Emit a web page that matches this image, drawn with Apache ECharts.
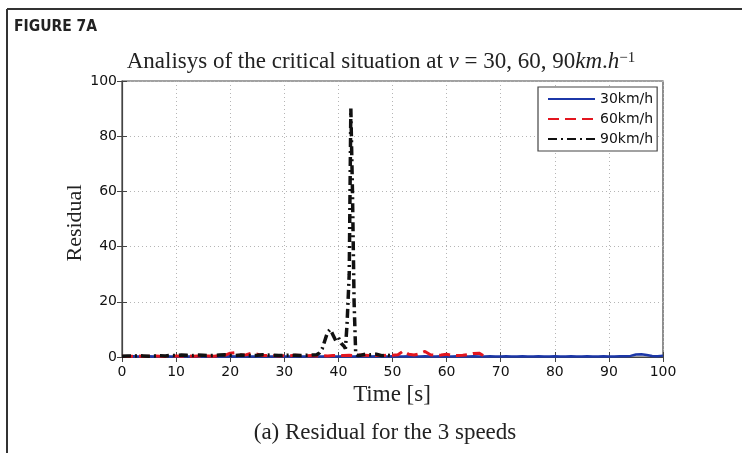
<!DOCTYPE html>
<html>
<head>
<meta charset="utf-8">
<script src="https://cdn.jsdelivr.net/npm/echarts/dist/echarts.min.js"></script>
<style>
html,body{margin:0;padding:0;background:#fff;}
#chart{width:742px;height:453px;}
</style>
</head>
<body>
<div id="chart"></div>
<script>
// ---- data ----
var xTicks = [0,10,20,30,40,50,60,70,80,90,100];
var yTicks = [0,20,40,60,80,100];
var seriesNames = ['30km/h','60km/h','90km/h'];

var t30 = [0,1,2,3,4,5,6,7,8,9,10,11,12,13,14,15,16,17,18,19,20,21,22,23,24,25,26,27,28,29,30,31,32,33,34,35,36,37,38,39,40,41,42,43,44,45,46,47,48,49,50,51,52,53,54,55,56,57,58,59,60,61,62,63,64,65,66,67,68,69,70,71,72,73,74,75,76,77,78,79,80,81,82,83,84,85,86,87,88,89,90,91,92,93,94,95,96,97,98,99,100];
var v30 = [0.2,0.2,0.3,0.2,0.2,0.3,0.2,0.2,0.3,0.2,0.2,0.3,0.2,0.2,0.3,0.2,0.2,0.3,0.2,0.2,0.3,0.2,0.2,0.3,0.2,0.2,0.3,0.2,0.2,0.3,0.2,0.2,0.3,0.2,0.2,0.3,0.2,0.2,0.3,0.2,0.2,0.3,0.2,0.2,0.3,0.2,0.2,0.3,0.2,0.2,0.3,0.2,0.2,0.3,0.2,0.2,0.3,0.2,0.2,0.3,0.2,0.2,0.3,0.2,0.2,0.3,0.2,0.2,0.3,0.2,0.2,0.3,0.2,0.2,0.3,0.2,0.2,0.3,0.2,0.2,0.3,0.2,0.2,0.3,0.2,0.2,0.3,0.2,0.2,0.3,0.2,0.2,0.3,0.3,0.4,0.9,1.0,0.7,0.4,0.3,0.5];

var t60 = [0,1,2,3,4,5,6,7,8,9,10,11,12,13,14,15,16,17,18,19,20,21,22,23,24,25,26,27,28,29,30,31,32,33,34,35,36,37,38,39,40,41,42,43,44,45,46,47,48,49,50,51,52,53,54,55,56,57,58,59,60,61,62,63,64,65,66,67];
var v60 = [0.3,0.2,0.3,0.4,0.2,0.3,0.4,0.3,0.2,0.3,0.4,0.3,0.5,0.3,0.4,0.3,0.4,0.3,0.5,0.6,1.4,1.6,0.7,0.8,1.4,1.0,0.5,0.6,0.5,0.4,0.5,0.4,0.6,0.5,0.4,0.5,0.4,0.5,0.4,0.5,0.6,0.5,0.6,0.5,0.7,0.6,0.5,0.6,0.5,0.7,0.6,0.8,2.2,1.0,0.7,1.2,2.0,0.8,0.6,0.7,1.0,0.6,0.5,0.6,0.9,1.3,1.4,0.3];

var t90 = [0,1,2,3,4,5,6,7,8,9,10,11,12,13,14,15,16,17,18,19,20,21,22,23,24,25,26,27,28,29,30,31,32,33,34,35,36,36.5,37,37.5,38,38.5,39,39.5,40,40.5,41,41.3,41.6,42,42.3,42.6,42.9,43.2,43.6,44,45,46,47,48,49,50];
var v90 = [0.3,0.4,0.3,0.5,0.4,0.3,0.4,0.5,0.4,0.6,0.5,0.7,0.6,0.5,0.7,0.6,0.5,0.6,0.7,0.8,0.6,0.5,0.7,0.6,0.5,0.6,0.8,0.7,0.6,0.5,0.6,0.7,0.6,0.5,0.6,0.7,0.8,1.5,3,6,9,10,8,6,7,5,4,3,12,30,90,60,20,1,0.5,0.6,1.0,0.8,1.0,0.5,0.7,0.4];

function pairs(t, v){ return t.map(function(x,i){ return [x, v[i]]; }); }

var chart = echarts.init(document.getElementById('chart'));
var tickFont = {fontFamily:'DejaVu Sans', fontSize:14, color:'#111'};
var gridLine = {show:true, lineStyle:{color:'#b5b5b5', type:[1,3], width:1}};

var option = {
  animation:false,
  backgroundColor:'#fff',
  grid:{left:122, top:81, right:79, bottom:96, show:true, backgroundColor:'#fff', borderColor:'#444', borderWidth:1.2},
  legend:{
    data:seriesNames, orient:'vertical', left:538, top:87,
    padding:[5,4,5,9], itemWidth:47, itemHeight:12, itemGap:6,
    itemStyle:{opacity:0},
    backgroundColor:'#fff', borderColor:'#444', borderWidth:1.2, borderRadius:0,
    textStyle:{fontFamily:'DejaVu Sans', fontSize:14, color:'#111', lineHeight:14}
  },
  xAxis:[{
    type:'value', min:0, max:100, interval:10,
    axisLine:{show:true, lineStyle:{color:'#444', width:1.2}},
    axisTick:{show:true, inside:true, length:5, lineStyle:{color:'#444'}},
    axisLabel:Object.assign({margin:8, formatter:function(v){return xTicks.indexOf(v)>=0? String(v):'';}}, tickFont),
    splitLine:gridLine
  },{
    type:'value', position:'top', min:0, max:100, interval:10,
    axisLine:{show:false}, axisTick:{show:true, inside:true, length:5, lineStyle:{color:'#444'}},
    axisLabel:{show:false}, splitLine:{show:false}
  }],
  yAxis:[{
    type:'value', min:0, max:100, interval:20,
    axisLine:{show:true, lineStyle:{color:'#444', width:1.2}},
    axisTick:{show:true, inside:true, length:5, lineStyle:{color:'#444'}},
    axisLabel:Object.assign({margin:5, formatter:function(v){return yTicks.indexOf(v)>=0? String(v):'';}}, tickFont),
    splitLine:gridLine
  },{
    type:'value', position:'right', min:0, max:100, interval:20,
    axisLine:{show:false}, axisTick:{show:true, inside:true, length:5, lineStyle:{color:'#444'}},
    axisLabel:{show:false}, splitLine:{show:false}
  }],
  series:[
    {name:seriesNames[0], type:'line', symbol:'none', data:pairs(t30,v30),
     lineStyle:{color:'#1c37a8', width:2.5, type:'solid'}, itemStyle:{color:'#1c37a8'}, z:2},
    {name:seriesNames[1], type:'line', symbol:'none', data:pairs(t60,v60),
     lineStyle:{color:'#e3161f', width:3, type:[11,6]}, itemStyle:{color:'#e3161f'}, z:3},
    {name:seriesNames[2], type:'line', symbol:'none', data:pairs(t90,v90),
     lineStyle:{color:'#111', width:3.5, type:[9,4,2,4]}, itemStyle:{color:'#111'}, z:4}
  ],
  graphic:[
    {type:'line', shape:{x1:7,y1:9,x2:742,y2:9}, style:{stroke:'#333', lineWidth:2}, silent:true},
    {type:'line', shape:{x1:7,y1:9,x2:7,y2:453}, style:{stroke:'#333', lineWidth:2}, silent:true},
    {type:'text', x:14, y:27, style:{text:'FIGURE 7A', fontFamily:'DejaVu Sans Condensed, Liberation Sans Narrow, sans-serif', fontWeight:'bold', fontSize:15.5, fill:'#222', textVerticalAlign:'middle'}},
    {type:'text', x:381, y:62, style:{
      text:'Analisys of the critical situation at {i|v} = 30, 60, 90{i|km}.{i|h}{s|−1}',
      fontFamily:'Liberation Serif, serif', fontSize:23, fill:'#222', textAlign:'center', textVerticalAlign:'middle',
      rich:{i:{fontFamily:'Liberation Serif, serif', fontStyle:'italic', fontSize:23, fill:'#222'},
            s:{fontFamily:'Liberation Serif, serif', fontSize:15, verticalAlign:'top', fill:'#222'}}
    }},
    {type:'text', x:75, y:223, rotation:Math.PI/2, style:{text:'Residual', fontFamily:'Liberation Serif, serif', fontSize:22, fill:'#222', textAlign:'center', textVerticalAlign:'middle'}},
    {type:'text', x:392, y:395, style:{text:'Time [s]', fontFamily:'Liberation Serif, serif', fontSize:23, fill:'#222', textAlign:'center', textVerticalAlign:'middle'}},
    {type:'text', x:385, y:433, style:{text:'(a) Residual for the 3 speeds', fontFamily:'Liberation Serif, serif', fontSize:23, fill:'#222', textAlign:'center', textVerticalAlign:'middle'}}
  ]
};
chart.setOption(option);
</script>
</body>
</html>
